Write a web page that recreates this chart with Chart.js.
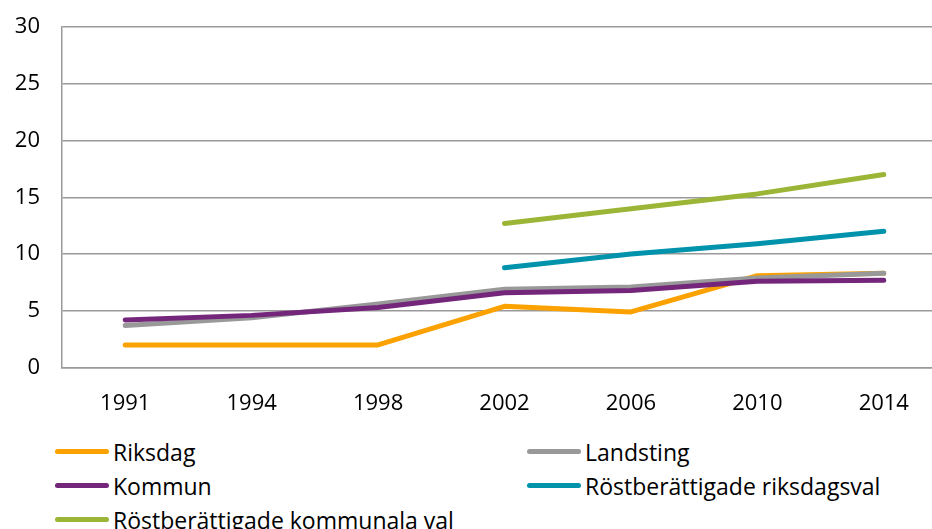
<!DOCTYPE html>
<html>
<head>
<meta charset="utf-8">
<script src="https://cdn.jsdelivr.net/npm/chart.js@4"></script>
<style>
  html, body { margin: 0; padding: 0; background: #fff; overflow: hidden; }
  body { width: 932px; height: 529px; font-family: "Open Sans", sans-serif; }
  .chart-wrap { position: absolute; left: 0; top: 0; width: 950px; height: 432px; }
  .legend {
    position: absolute; left: 55px; top: 436px;
    display: grid; grid-template-columns: 472px 400px; row-gap: 3px;
  }
  .legend-item { display: flex; align-items: center; height: 31px; font-size: 23px; color: #000; }
  .legend-swatch { width: 54px; height: 5px; border-radius: 3px; margin-right: 4px; }
</style>
</head>
<body>
<div class="chart-wrap"><canvas id="lineChart" width="950" height="432"></canvas></div>
<div class="legend" id="legend"></div>
<script>
const years = ["1991", "1994", "1998", "2002", "2006", "2010", "2014"];
const riksdag = [2.0, 2.0, 2.0, 5.4, 4.9, 8.1, 8.3];
const landsting = [3.7, 4.4, 5.6, 6.9, 7.1, 7.9, 8.3];
const kommun = [4.2, 4.6, 5.3, 6.6, 6.8, 7.6, 7.7];
const rostRiksdag = [null, null, null, 8.8, 10.0, 10.9, 12.0];
const rostKommun = [null, null, null, 12.7, 14.0, 15.3, 17.0];

const series = [
  { label: "Riksdag", data: riksdag, color: "#FBA200", order: 5 },
  { label: "Landsting", data: landsting, color: "#999999", order: 4 },
  { label: "Kommun", data: kommun, color: "#74267B", order: 3 },
  { label: "Röstberättigade riksdagsval", data: rostRiksdag, color: "#0093AB", order: 2 },
  { label: "Röstberättigade kommunala val", data: rostKommun, color: "#9BB637", order: 1 },
];

const tickFont = { family: "Open Sans", size: 22 };

const chart = new Chart(document.getElementById("lineChart"), {
  type: "line",
  data: {
    labels: years,
    datasets: series.map(s => ({
      label: s.label,
      data: s.data,
      borderColor: s.color,
      backgroundColor: s.color,
      borderWidth: 5,
      borderCapStyle: "round",
      borderJoinStyle: "round",
      pointRadius: 0,
      tension: 0,
      order: s.order,
    })),
  },
  options: {
    responsive: false,
    animation: false,
    layout: { padding: { top: 27, right: 3, left: 0, bottom: 0 } },
    plugins: { legend: { display: false }, tooltip: { enabled: false } },
    scales: {
      x: {
        offset: true,
        grid: { display: false },
        border: { display: true, color: "#999999", width: 1.5 },
        ticks: { color: "#000", font: tickFont, padding: 15 },
      },
      y: {
        min: 0,
        max: 30,
        ticks: { stepSize: 5, color: "#000", font: tickFont, padding: 22 },
        grid: { color: "#999999", lineWidth: 1.5, drawTicks: false },
        border: { display: true, color: "#999999", width: 1.5 },
        afterFit: scale => {
          scale.width = 62;
          scale.paddingTop = 0;
          scale.paddingBottom = 0;
        },
      },
    },
  },
});

document.getElementById("legend").innerHTML = chart.data.datasets.map(ds => `
  <div class="legend-item">
    <span class="legend-swatch" style="background:${ds.borderColor}"></span>${ds.label}
  </div>
`).join("");
</script>
</body>
</html>
